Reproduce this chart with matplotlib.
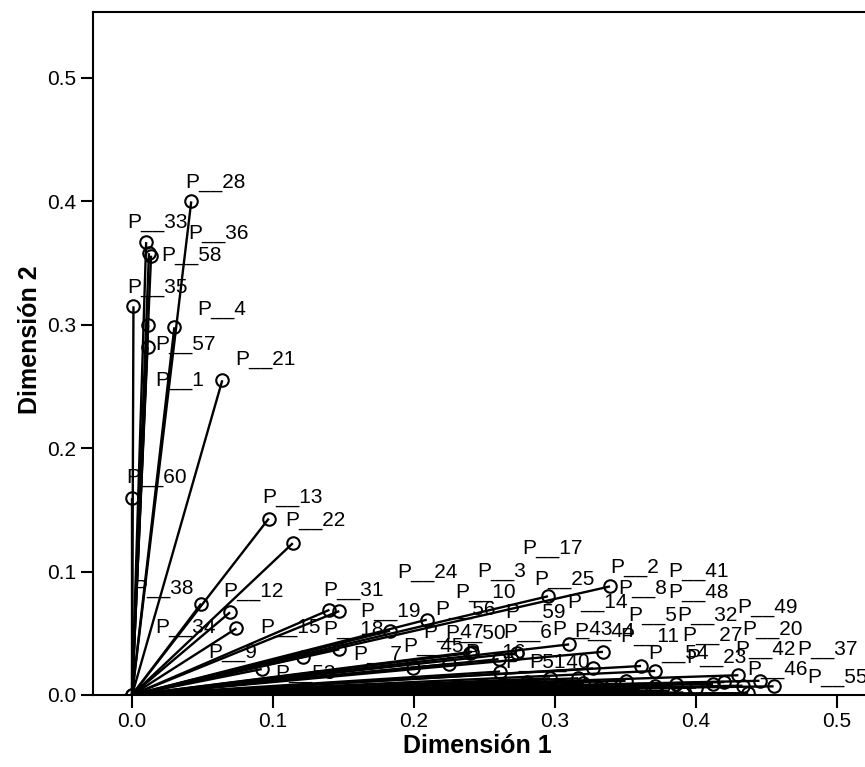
import matplotlib.pyplot as plt

plt.rcParams['font.family'] = ['Liberation Sans', 'DejaVu Sans']

# discrimination measures (Dimensión 1, Dimensión 2)
names = ['P__28', 'P__33', 'P__36', 'P__58', 'P__35', 'P__4', 'P__57', 'P__1',
         'P__21', 'P__60', 'P__13', 'P__22', 'P__38', 'P__12', 'P__34', 'P__9',
         'P__31', 'P__24', 'P__53', 'P__15', 'P__19', 'P__18', 'P__47', 'P__45',
         'P__7', 'P__25', 'P__2', 'P__43', 'P__44', 'P__16', 'P__50', 'P__6',
         'P__11', 'P__54', 'P__23', 'P__40', 'P__51', 'P__14', 'P__27', 'P__42',
         'P__20', 'P__46', 'P__37', 'P__5', 'P__32', 'P__55', 'P__10', 'P__3',
         'P__17', 'P__41', 'P__8', 'P__48', 'P__49', 'P__56', 'P__59', 'P__26',
         'P__29', 'P__30', 'P__39', 'P__52']
dim1 = [0.042, 0.010, 0.012, 0.0135, 0.001, 0.030, 0.011, 0.0115,
        0.064, 0.000, 0.097, 0.114, 0.049, 0.0695, 0.074, 0.092,
        0.140, 0.147, 0.1215, 0.147, 0.209, 0.183, 0.240, 0.2245,
        0.1995, 0.295, 0.339, 0.310, 0.334, 0.260, 0.241, 0.273,
        0.327, 0.361, 0.371, 0.3165, 0.2965, 0.331, 0.371, 0.430,
        0.412, 0.455, 0.433, 0.386, 0.391, 0.437, 0.261, 0.280,
        0.350, 0.400, 0.360, 0.420, 0.445, 0.250, 0.320, 0.380,
        0.000, 0.000, 0.300, 0.340]
dim2 = [0.400, 0.367, 0.358, 0.356, 0.315, 0.298, 0.282, 0.300,
        0.255, 0.160, 0.143, 0.123, 0.074, 0.067, 0.054, 0.021,
        0.069, 0.068, 0.031, 0.037, 0.061, 0.052, 0.034, 0.025,
        0.022, 0.080, 0.088, 0.041, 0.035, 0.029, 0.035, 0.034,
        0.0215, 0.0235, 0.0195, 0.0135, 0.0135, 0.0055, 0.0075, 0.016,
        0.009, 0.007, 0.0075, 0.009, 0.002, 0.0015, 0.019, 0.0105,
        0.0115, 0.006, 0.004, 0.0105, 0.0115, 0.007, 0.010, 0.0035,
        0.000, 0.000, 0.003, 0.0075]

xticks = [0.0, 0.1, 0.2, 0.3, 0.4, 0.5]
yticks = [0.0, 0.1, 0.2, 0.3, 0.4, 0.5]

# where the label of each variable sits (left end, vertical centre)
label_pos = {
    'P__28': (0.0376, 0.415), 'P__33': (-0.0035, 0.383), 'P__36': (0.0397, 0.374),
    'P__58': (0.0206, 0.356), 'P__35': (-0.0035, 0.330), 'P__4': (0.0461, 0.312),
    'P__57': (0.0163, 0.284), 'P__1': (0.0163, 0.255), 'P__21': (0.073, 0.2715),
    'P__60': (-0.0043, 0.176), 'P__13': (0.0922, 0.160), 'P__22': (0.109, 0.141),
    'P__38': (0.0007, 0.086), 'P__12': (0.0645, 0.0835), 'P__34': (0.0163, 0.0543),
    'P__15': (0.0908, 0.0543), 'P__9': (0.0539, 0.0348), 'P__53': (0.1014, 0.0178),
    'P__31': (0.1355, 0.0843), 'P__24': (0.188, 0.0989), 'P__3': (0.2447, 0.0997),
    'P__17': (0.2766, 0.1183), 'P__25': (0.2851, 0.0932), 'P__10': (0.229, 0.0827),
    'P__2': (0.339, 0.1037), 'P__41': (0.380, 0.0997), 'P__8': (0.3447, 0.0859),
    'P__48': (0.380, 0.0827), 'P__19': (0.1617, 0.0673), 'P__56': (0.2149, 0.0689),
    'P__59': (0.2645, 0.0665), 'P__14': (0.3085, 0.0746), 'P__43': (0.2979, 0.0527),
    'P__44': (0.3135, 0.0511), 'P__5': (0.3518, 0.0648), 'P__32': (0.3865, 0.0648),
    'P__49': (0.429, 0.0705), 'P__11': (0.346, 0.047), 'P__27': (0.390, 0.0486),
    'P__20': (0.4326, 0.0527), 'P__37': (0.4716, 0.0365), 'P__42': (0.4277, 0.0365),
    'P__54': (0.366, 0.034), 'P__23': (0.393, 0.030), 'P__46': (0.436, 0.0203),
    'P__55': (0.4787, 0.0138), 'P__47': (0.2064, 0.051), 'P__50': (0.222, 0.050),
    'P__6': (0.263, 0.051), 'P__18': (0.1355, 0.0527), 'P__7': (0.1567, 0.0324),
    'P__45': (0.192, 0.0389), 'P__16': (0.236, 0.0348), 'P__51': (0.2645, 0.0267),
    'P__40': (0.282, 0.0267), 'P__26': (0.17, 0.001), 'P__29': (0.22, 0.001),
    'P__30': (0.30, 0.001), 'P__39': (0.12, 0.001), 'P__52': (0.34, 0.001),
}

fig = plt.figure(figsize=(8.65, 7.67), dpi=100)
ax = fig.add_axes([0.1075, 0.0939, 0.958, 0.8905])

for n, x, y in zip(names, dim1, dim2):
    ax.plot([0, x], [0, y], color='black', lw=1.7, solid_capstyle='butt', zorder=3)
for n, x, y in zip(names, dim1, dim2):
    ax.plot(x, y, 'o', ms=9, mfc='none', mec='black', mew=1.5, zorder=3)
    lx, ly = label_pos[n]
    ax.text(lx, ly, n, fontsize=15, ha='left', va='center', color='black',
            zorder=2, clip_on=True)

ax.set_xlim(-0.0277, 0.56)
ax.set_ylim(0, 0.5535)
ax.set_xticks(xticks)
ax.set_yticks(yticks)
ax.set_xticklabels(['%.1f' % t for t in xticks])
ax.set_yticklabels(['%.1f' % t for t in yticks])
ax.tick_params(direction='out', length=9, width=1.5, labelsize=15, pad=3)
for s in ax.spines.values():
    s.set_linewidth(1.5)
    s.set_zorder(4)

fig.text(477 / 865, 1 - 746 / 767, 'Dimensión 1', fontsize=18, fontweight='bold',
         ha='center', va='center')
fig.text(30 / 865, 1 - 340 / 767, 'Dimensión 2', fontsize=18, fontweight='bold',
         ha='center', va='center', rotation=90)

fig.savefig('out.png', dpi=100)
